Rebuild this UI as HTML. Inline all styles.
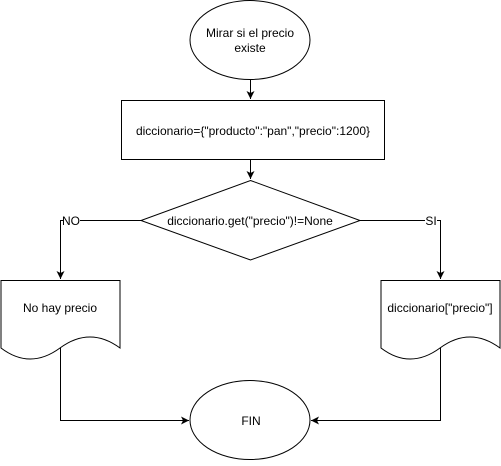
<!DOCTYPE html>
<html><head><style>body{margin:0;background:#fff}</style></head><body>
<svg width="501" height="461" xmlns="http://www.w3.org/2000/svg" font-family="Liberation Sans, Arial, sans-serif" font-size="12">
<defs><marker id="a" markerWidth="10" markerHeight="10" refX="8" refY="4" orient="auto" markerUnits="userSpaceOnUse"><path d="M0,0 L8,4 L0,8 L2,4 Z" fill="#000"/></marker></defs>
<g fill="#fff" stroke="#000" stroke-width="1">
<ellipse cx="250" cy="40" rx="60" ry="39.5"/>
<rect x="121.5" y="100.5" width="263" height="59"/>
<path d="M250.5,180.5 L360,220.5 L250.5,260 L141,220.5 Z"/>
<path d="M1,280.5 H120 V348 Q90,326 60,348 Q30,370 1,348 Z"/>
<path d="M381,280.5 H500 V348 Q470,326 440,348 Q410,370 381,348 Z"/>
<ellipse cx="250" cy="420" rx="60" ry="39.5"/>
</g>
<g fill="none" stroke="#000" stroke-width="1">
<line x1="250.5" y1="80" x2="250.5" y2="99" marker-end="url(#a)"/>
<line x1="250.5" y1="160" x2="250.5" y2="179" marker-end="url(#a)"/>
<path d="M141,220.5 H60.5 V279" marker-end="url(#a)"/>
<path d="M360,220.5 H440.5 V279" marker-end="url(#a)"/>
<path d="M60.5,348 V420.5 H189" marker-end="url(#a)"/>
<path d="M440.5,348 V420.5 H311" marker-end="url(#a)"/>
</g>
<rect x="63" y="213" width="17" height="14" fill="#fff"/>
<rect x="425" y="213" width="12" height="14" fill="#fff"/>
<g fill="#000" text-anchor="middle">
<text x="250" y="37">Mirar si el precio</text>
<text x="250" y="52">existe</text>
<text x="253" y="135">diccionario={"producto":"pan","precio":1200}</text>
<text x="250" y="225">diccionario.get("precio")!=None</text>
<text x="71" y="225">NO</text>
<text x="431" y="225">SI</text>
<text x="60" y="312">No hay precio</text>
<text x="440" y="312">diccionario["precio"]</text>
<text x="251" y="425">FIN</text>
</g>
</svg>
</body></html>
